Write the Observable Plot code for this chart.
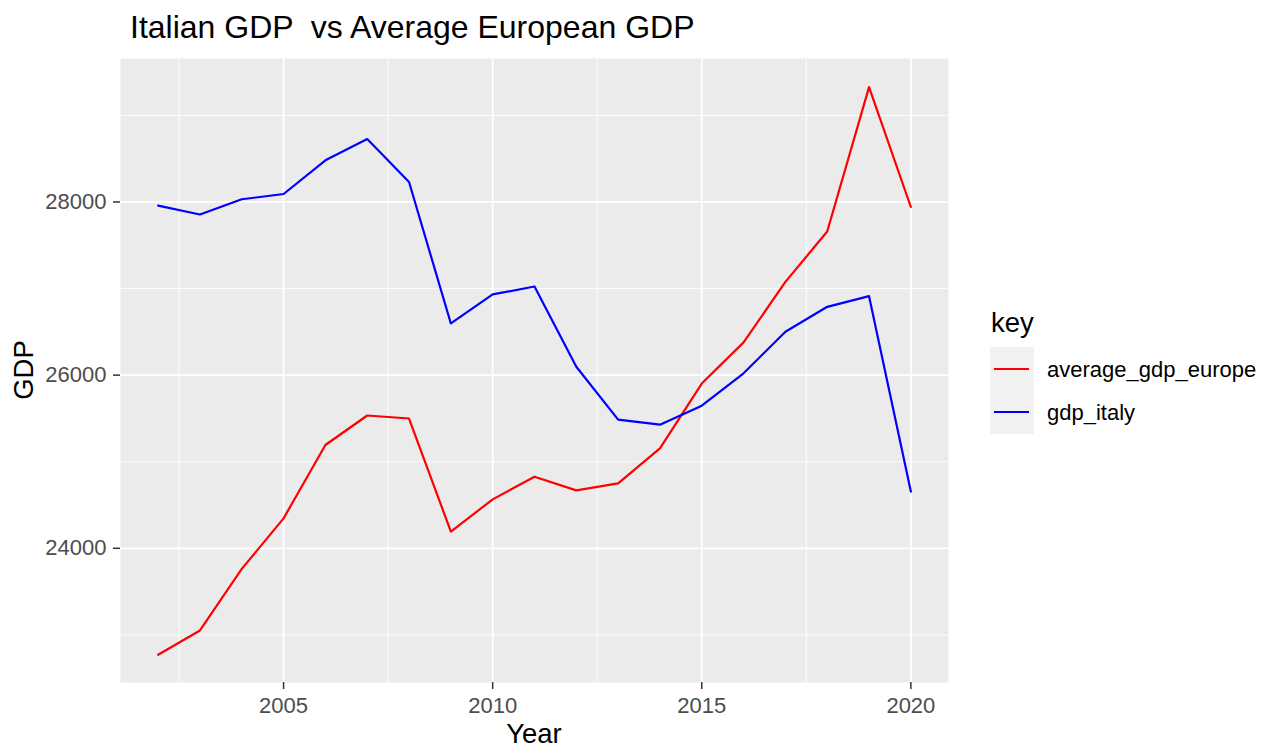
<!DOCTYPE html>
<html>
<head>
<meta charset="utf-8">
<script src="https://cdn.jsdelivr.net/npm/d3@7"></script>
<script src="https://cdn.jsdelivr.net/npm/@observablehq/plot@0.6"></script>
<style>
  html, body { margin: 0; padding: 0; background: #ffffff; }
  #chart { width: 1270px; height: 747px; }
</style>
</head>
<body>
<div id="chart"></div>
<script>
const years = [2002, 2003, 2004, 2005, 2006, 2007, 2008, 2009, 2010, 2011, 2012, 2013, 2014, 2015, 2016, 2017, 2018, 2019, 2020];
const gdp_italy = [27958, 27855, 28031, 28092, 28481, 28727, 28231, 26597, 26932, 27024, 26097, 25486, 25428, 25647, 26021, 26501, 26789, 26912, 24655];
const average_gdp_europe = [22770, 23051, 23762, 24346, 25193, 25534, 25499, 24193, 24565, 24827, 24669, 24750, 25153, 25903, 26378, 27077, 27659, 29326, 27942];
const seriesKeys = ["average_gdp_europe", "gdp_italy"];
const seriesColors = ["#FF0000", "#0000FF"];
const xMajor = [2005, 2010, 2015, 2020];
const xMinor = [2002.5, 2007.5, 2012.5, 2017.5];
const yMajor = [24000, 26000, 28000];
const yMinor = [23000, 25000, 27000, 29000];
const titleText = "Italian GDP  vs Average European GDP";
const xTitle = "Year";
const yTitle = "GDP";
const legendTitle = "key";

const rows = [];
years.forEach((yr, i) => rows.push({year: yr, value: average_gdp_europe[i], key: seriesKeys[0]}));
years.forEach((yr, i) => rows.push({year: yr, value: gdp_italy[i], key: seriesKeys[1]}));

const FONT = "'Liberation Sans', Arial, Helvetica, sans-serif";

const svg = Plot.plot({
  width: 1270,
  height: 747,
  marginLeft: 120,
  marginRight: 322,
  marginTop: 58,
  marginBottom: 65,
  style: {fontFamily: FONT, background: "#ffffff", overflow: "visible"},
  x: {type: "linear", domain: [2001.1, 2020.9]},
  y: {type: "linear", domain: [22450, 29657]},
  color: {domain: seriesKeys, range: seriesColors},
  marks: [
    Plot.frame({fill: "#EBEBEB", stroke: null}),
    Plot.ruleX(xMinor, {stroke: "#ffffff", strokeWidth: 0.9}),
    Plot.ruleY(yMinor, {stroke: "#ffffff", strokeWidth: 0.9}),
    Plot.ruleX(xMajor, {stroke: "#ffffff", strokeWidth: 1.8}),
    Plot.ruleY(yMajor, {stroke: "#ffffff", strokeWidth: 1.8}),
    Plot.line(rows, {x: "year", y: "value", z: "key", stroke: "key", strokeWidth: 2.2}),
    Plot.axisX(xMajor, {
      label: null, tickSize: 7, tickPadding: 8, fontSize: 22,
      fill: "#4D4D4D", stroke: "#333333", strokeWidth: 1.5,
      tickFormat: d => String(d)
    }),
    Plot.axisY(yMajor, {
      label: null, tickSize: 7, tickPadding: 7, fontSize: 22,
      fill: "#4D4D4D", stroke: "#333333", strokeWidth: 1.5,
      tickFormat: d => String(d)
    })
  ]
});

document.getElementById("chart").appendChild(svg);

const s = d3.select(svg);
// Title
s.append("text")
  .attr("x", 130).attr("y", 38)
  .attr("text-anchor", "start")
  .attr("font-size", 32).attr("font-family", FONT).attr("fill", "#000000")
  .text(titleText);
// Axis titles
s.append("text")
  .attr("x", 534).attr("y", 743)
  .attr("text-anchor", "middle")
  .attr("font-size", 27.5).attr("font-family", FONT).attr("fill", "#000000")
  .text(xTitle);
s.append("text")
  .attr("transform", "translate(33,370) rotate(-90)")
  .attr("text-anchor", "middle")
  .attr("font-size", 27.5).attr("font-family", FONT).attr("fill", "#000000")
  .text(yTitle);
// Legend
s.append("text")
  .attr("x", 991).attr("y", 332)
  .attr("text-anchor", "start")
  .attr("font-size", 27.5).attr("font-family", FONT).attr("fill", "#000000")
  .text(legendTitle);
s.append("rect")
  .attr("x", 990).attr("y", 347).attr("width", 44).attr("height", 87)
  .attr("fill", "#F2F2F2");
const legendY = [369, 412];
seriesKeys.forEach((k, i) => {
  s.append("line")
    .attr("x1", 994).attr("x2", 1029)
    .attr("y1", legendY[i]).attr("y2", legendY[i])
    .attr("stroke", seriesColors[i]).attr("stroke-width", 2.2);
  s.append("text")
    .attr("x", 1047).attr("y", legendY[i])
    .attr("dy", "0.35em")
    .attr("text-anchor", "start")
    .attr("font-size", 22).attr("font-family", FONT).attr("fill", "#000000")
    .text(k);
});
</script>
</body>
</html>
